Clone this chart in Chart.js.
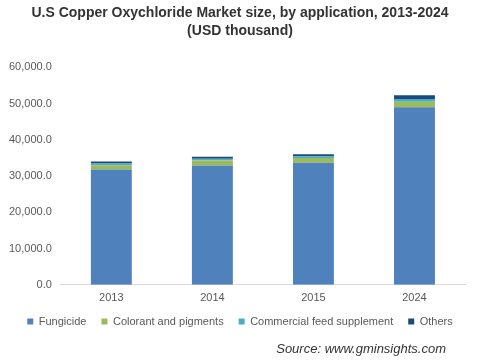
<!DOCTYPE html>
<html>
<head>
<meta charset="utf-8">
<script src="https://cdn.jsdelivr.net/npm/chart.js@4/dist/chart.umd.min.js"></script>
<style>
html,body{margin:0;padding:0;background:#fff;}
#wrap{position:relative;width:480px;height:363px;}
</style>
</head>
<body>
<div id="wrap"><canvas id="c" width="480" height="363"></canvas></div>
<script>
const categories = ["2013", "2014", "2015", "2024"];
const fungicide = [31800, 32900, 33700, 49000];
const colorant = [1200, 1400, 1300, 1500];
const feedSupplement = [500, 500, 500, 800];
const others = [500, 550, 550, 1000];
const yTicks = [0, 10000, 20000, 30000, 40000, 50000, 60000];

const LEGEND_SHIFT = 11;

const sourcePlugin = {
  id: 'source',
  afterLayout(chart) {
    const lg = chart.legend;
    if (lg) { lg.top -= LEGEND_SHIFT; lg.bottom -= LEGEND_SHIFT; }
  },
  afterDraw(chart) {
    const ctx = chart.ctx;
    ctx.save();
    ctx.font = 'italic 13px "Liberation Sans", Arial, sans-serif';
    ctx.fillStyle = '#333333';
    ctx.textAlign = 'right';
    ctx.textBaseline = 'middle';
    ctx.fillText('Source: www.gminsights.com', 446, 349);
    ctx.restore();
  }
};

new Chart(document.getElementById('c'), {
  type: 'bar',
  data: {
    labels: categories,
    datasets: [
      {label: 'Fungicide', data: fungicide, backgroundColor: '#4F81BD'},
      {label: 'Colorant and pigments', data: colorant, backgroundColor: '#9BBB59'},
      {label: 'Commercial feed supplement', data: feedSupplement, backgroundColor: '#4BACC6'},
      {label: 'Others', data: others, backgroundColor: '#1F497D'}
    ]
  },
  options: {
    responsive: false,
    animation: false,
    layout: {padding: {left: 0, right: 0, top: 0, bottom: 15}},
    datasets: {bar: {barPercentage: 0.405, categoryPercentage: 1.0}},
    plugins: {
      title: {
        display: true,
        text: ['U.S Copper Oxychloride Market size, by application, 2013-2024', '(USD thousand)'],
        color: '#333333',
        font: {family: '"Liberation Sans", Arial, sans-serif', size: 14, weight: 'bold', lineHeight: 1.3},
        padding: {top: 4, bottom: 27}
      },
      legend: {
        position: 'bottom',
        labels: {
          boxWidth: 6, boxHeight: 6, padding: 15,
          color: '#595959',
          font: {family: '"Liberation Sans", Arial, sans-serif', size: 11}
        }
      },
      tooltip: {enabled: false}
    },
    scales: {
      x: {
        stacked: true,
        grid: {display: false, drawTicks: false},
        border: {display: true, color: '#D9D9D9'},
        ticks: {color: '#595959', padding: 7, font: {family: '"Liberation Sans", Arial, sans-serif', size: 11}}
      },
      y: {
        stacked: true,
        min: 0, max: 60000,
        afterBuildTicks(axis) { axis.ticks = yTicks.map(v => ({value: v})); },
        grid: {display: false, drawTicks: false},
        border: {display: false},
        ticks: {
          color: '#595959', padding: 9,
          font: {family: '"Liberation Sans", Arial, sans-serif', size: 11},
          callback: v => v.toLocaleString('en-US', {minimumFractionDigits: 1, maximumFractionDigits: 1})
        }
      },
      ySpacer: {
        position: 'right',
        display: true,
        grid: {display: false, drawTicks: false},
        border: {display: false},
        ticks: {display: false},
        afterFit(scale) { scale.width = 15; }
      }
    }
  },
  plugins: [sourcePlugin]
});
</script>
</body>
</html>
